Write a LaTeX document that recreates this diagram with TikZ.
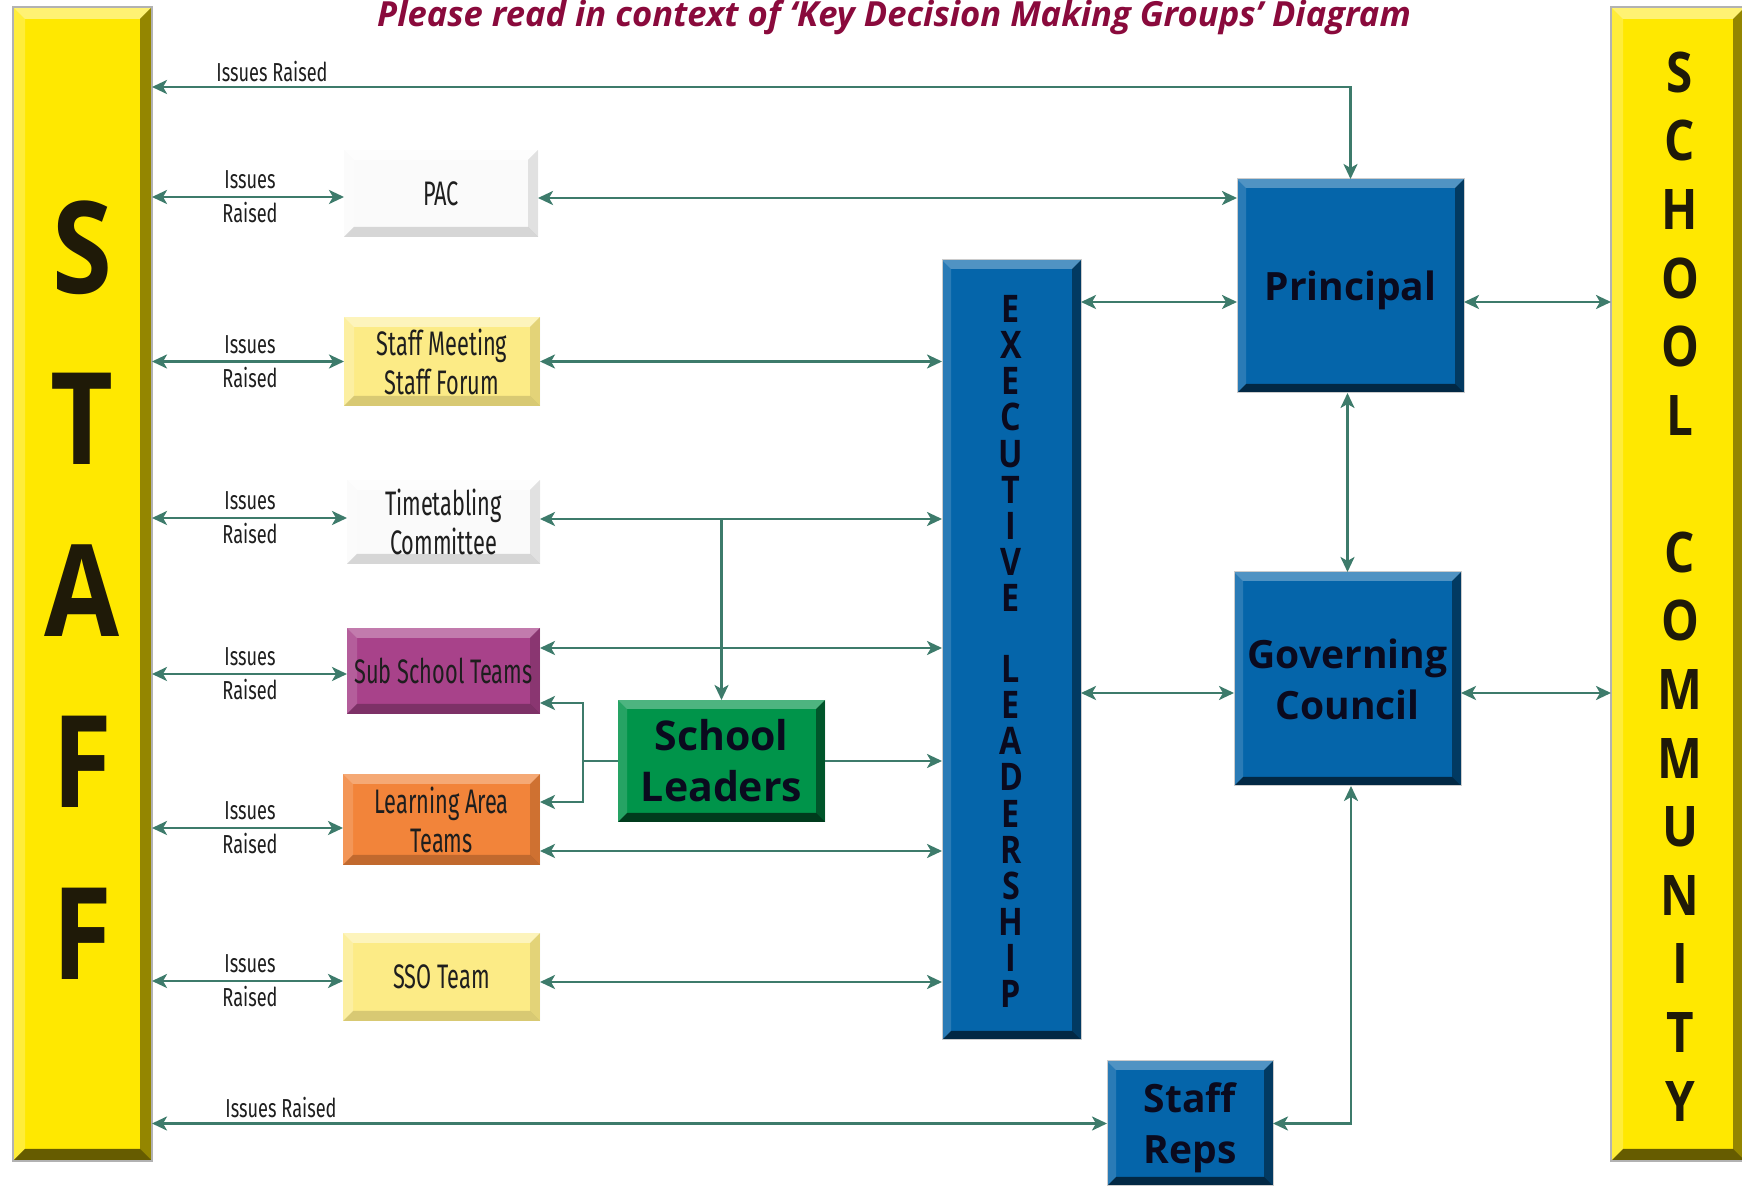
\documentclass[tikz,border=0pt]{standalone}
\usepackage{fontspec}
\setmainfont{Open Sans}
\newfontfamily\condf[FakeStretch=0.64]{Fira Sans}
\newfontfamily\irf[FakeStretch=0.7]{Fira Sans}
\newfontfamily\bigf[FakeStretch=0.85]{Open Sans}
\usetikzlibrary{arrows.meta}
\definecolor{arrc}{HTML}{3D7B6B}
\definecolor{ybar}{HTML}{FFE800}
\definecolor{blu}{HTML}{0565AA}
\definecolor{grn}{HTML}{00944A}
\definecolor{mag}{HTML}{A8428A}
\definecolor{org}{HTML}{F2843A}
\definecolor{lyel}{HTML}{FCEB86}
\definecolor{wbox}{HTML}{FAFAFA}
\definecolor{ttl}{HTML}{8A0A3C}
\definecolor{ink}{HTML}{0A0A1E}
\definecolor{labink}{HTML}{1E1E1E}
\definecolor{barink}{HTML}{1F1A08}
\begin{document}
\begin{tikzpicture}[x=0.5pt, y=-0.5pt,
  >={Stealth[length=7.5pt,width=7pt,inset=2pt]},
  lk/.style={draw=arrc, line width=1.3pt},
  sz/.style 2 args={minimum width=#1*0.5pt, minimum height=#2*0.5pt, inner sep=0pt, outer sep=0pt},
  bev/.style n args={4}{fill=#1, path picture={
    \coordinate (q1) at (path picture bounding box.north west);
    \coordinate (q2) at (path picture bounding box.north east);
    \coordinate (q3) at (path picture bounding box.south east);
    \coordinate (q4) at (path picture bounding box.south west);
    \fill[white, fill opacity=#3] (q1) -- (q2) -- ([shift={(-#2,-#2)}]q2) -- ([shift={(#2,-#2)}]q1) -- cycle;
    \fill[white, fill opacity=0.5*#3] (q1) -- ([shift={(#2,-#2)}]q1) -- ([shift={(#2,#2)}]q4) -- (q4) -- cycle;
    \fill[black, fill opacity=#4] (q4) -- ([shift={(#2,#2)}]q4) -- ([shift={(-#2,#2)}]q3) -- (q3) -- cycle;
    \fill[black, fill opacity=0.7*#4] (q2) -- (q3) -- ([shift={(-#2,#2)}]q3) -- ([shift={(-#2,-#2)}]q2) -- cycle;
  }},
  barbox/.style={bev={ybar}{6pt}{0.45}{0.6}, draw=gray!60, line width=0.7pt},
  bluebox/.style={bev={blu}{4.5pt}{0.3}{0.6}, draw=gray!40, line width=0.5pt},
  wtbox/.style={bev={wbox}{5pt}{0.6}{0.14}},
  lab/.style={font=\condf\fontsize{17}{19.5}\selectfont, text=labink, align=center},
  blab/.style={font=\bfseries\fontsize{19.5}{25.5}\selectfont, text=ink, align=center},
  ir/.style={font=\irf\fontsize{13}{17}\selectfont, text=labink, align=center, inner sep=0pt},
  bigl/.style={font=\bigf\bfseries, text=barink, align=center, inner sep=0pt},
  vlet/.style={font=\bigf\bfseries\fontsize{19}{18.05}\selectfont, text=ink, align=center, inner sep=0pt}
]
\useasboundingbox (0,0) rectangle (1742,1186);
\fill[white] (0,0) rectangle (1742,1186);

% title
\node[text=ttl, font=\bfseries\itshape\fontsize{17.3}{19}\selectfont, inner sep=0pt] (title) at (894,17)
  {Please read in context of ‘Key Decision Making Groups’ Diagram};

% side bars
\node[barbox, sz={139}{1154}] (staff) at (82.5,584) {};
\node[barbox, sz={134}{1154}] (comm) at (1678,584) {};
\node[bigl, font=\bigf\bfseries\fontsize{64}{85.75}\selectfont] (staffword) at (82,590) {S\\T\\A\\F\\F};
\node[bigl, font=\bigf\bfseries\fontsize{28}{34.3}\selectfont] (schoolword) at (1680,243.5) {S\\C\\H\\O\\O\\L};
\node[bigl, font=\bigf\bfseries\fontsize{28}{34.3}\selectfont] (commword) at (1680,826.5) {C\\O\\M\\M\\U\\N\\I\\T\\Y};

% middle boxes
\node[wtbox, sz={194}{87}, lab] (pac) at (441,193.5) {PAC};
\node[bev={lyel}{5pt}{0.45}{0.14}, sz={196}{89}, lab] (sm) at (442,361.5) {Staff Meeting\\Staff Forum};
\node[wtbox, sz={193}{84}, lab] (tt) at (443.5,522) {Timetabling\\Committee};
\node[bev={mag}{5pt}{0.3}{0.25}, sz={193}{86}, lab] (ss) at (443.5,671) {Sub School Teams};
\node[bev={org}{5pt}{0.3}{0.2}, sz={197}{91}, lab] (la) at (441.5,819.5) {Learning Area\\Teams};
\node[bev={lyel}{5pt}{0.45}{0.14}, sz={197}{88}, lab] (sso) at (441.5,977) {SSO Team};
\node[bev={grn}{4.5pt}{0.3}{0.6}, sz={207}{122}, blab, font=\bfseries\fontsize{20.5}{25.5}\selectfont] (sl) at (721.5,761) {School\\Leaders};

% blue boxes
\node[bluebox, sz={139}{780}] (exec) at (1011.5,650) {};
\node[vlet] (execw) at (1011,453.5) {E\\X\\E\\C\\U\\T\\I\\V\\E};
\node[vlet] (leadw) at (1011,831.5) {L\\E\\A\\D\\E\\R\\S\\H\\I\\P};
\node[bluebox, sz={227}{214}, blab, text depth=0pt] (principal) at (1350.5,286) {Principal};
\node[bluebox, sz={227}{214}, blab] (gov) at (1347.5,679) {Governing\\Council};
\node[bluebox, sz={166}{125}, blab, text depth=0pt] (reps) at (1190,1123.5) {Staff\\Reps};

% top and bottom issues raised
\coordinate (ytop) at (1348,87);
\draw[lk,<->] (staff.east |- ytop) -- (principal.north |- ytop) -- (principal.north);
\node[ir] (irtop) at (272,72) {Issues Raised};
\draw[lk,<->] (staff.east |- reps.west) -- (reps.west);
\node[ir] (irbot) at (281,1108) {Issues Raised};

% left double arrows with labels
\coordinate (lp) at ([yshift=-1.75pt]pac.west);
\draw[lk,<->] (staff.east |- lp) -- (lp);
\node[ir] (ir1) at (250,197) {Issues\\Raised};
\draw[lk,<->] (staff.east |- sm.west) -- (sm.west);
\node[ir] (ir2) at (250,362) {Issues\\Raised};
\coordinate (lt) at ([yshift=2pt]tt.west);
\draw[lk,<->] (staff.east |- lt) -- (lt);
\node[ir] (ir3) at (250,518) {Issues\\Raised};
\coordinate (ls) at ([yshift=-1.5pt]ss.west);
\draw[lk,<->] (staff.east |- ls) -- (ls);
\node[ir] (ir4) at (250,674) {Issues\\Raised};
\coordinate (ll) at ([yshift=-4.25pt]la.west);
\draw[lk,<->] (staff.east |- ll) -- (ll);
\node[ir] (ir5) at (250,828) {Issues\\Raised};
\coordinate (lo) at ([yshift=-2pt]sso.west);
\draw[lk,<->] (staff.east |- lo) -- (lo);
\node[ir] (ir6) at (250,981) {Issues\\Raised};

% right arrows to exec / principal
\coordinate (rp) at ([yshift=-2.25pt]pac.east);
\draw[lk,<->] (rp) -- (rp -| principal.west);
\draw[lk,<->] (sm.east) -- (sm.east -| exec.west);
\coordinate (rt) at ([yshift=1.5pt]tt.east);
\draw[lk,<->] (rt) -- (rt -| exec.west);
\draw[lk,->] (rt -| sl.north) -- (sl.north);
\coordinate (rs) at ([yshift=11.5pt]ss.east);
\draw[lk,<->] (rs) -- (rs -| exec.west);
\coordinate (rl) at ([yshift=-15.75pt]la.east);
\draw[lk,<->] (rl) -- (rl -| exec.west);
\coordinate (ro) at ([yshift=-2.5pt]sso.east);
\draw[lk,<->] (ro) -- (ro -| exec.west);
\draw[lk,->] (sl.east) -- (sl.east -| exec.west);
\path (sl.west) ++(-17.5pt,0pt) coordinate (jn);
\draw[lk] (sl.west) -- (jn);
\draw[lk,<->] ([yshift=-16pt]ss.east) -| (jn) |- ([yshift=8.75pt]la.east);

% exec / principal / governing / community
\coordinate (pr) at ([yshift=-8pt]principal.west);
\draw[lk,<->] (exec.east |- pr) -- (pr);
\draw[lk,<->] (pr -| principal.east) -- (pr -| comm.west);
\coordinate (gr) at ([yshift=-7pt]gov.west);
\draw[lk,<->] (exec.east |- gr) -- (gr);
\draw[lk,<->] (gr -| gov.east) -- (gr -| comm.west);
\draw[lk,<->] (principal.south -| gov.north) -- (gov.north);
\draw[lk,<->] ([xshift=1.75pt]gov.south) |- (reps.east);
\end{tikzpicture}
\end{document}
